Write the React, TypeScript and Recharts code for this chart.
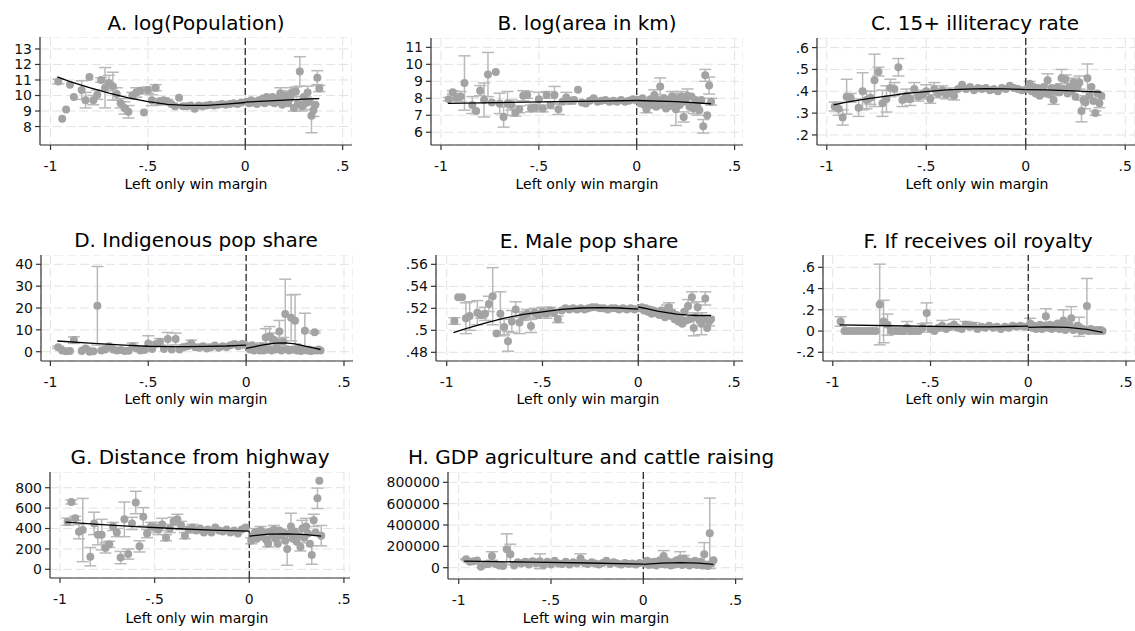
import {
  CartesianGrid,
  ComposedChart,
  ErrorBar,
  ReferenceLine,
  Scatter,
  XAxis,
  YAxis,
} from "recharts";

// bin midpoints of the running variable (shared by every panel)
const leftBins = [
  -0.96, -0.94, -0.92, -0.9, -0.88, -0.86, -0.84, -0.82, -0.8, -0.78, -0.76, -0.74,
  -0.72, -0.7, -0.68, -0.66, -0.64, -0.62, -0.6, -0.58, -0.56, -0.54, -0.52, -0.5,
  -0.48, -0.46, -0.44, -0.42, -0.4, -0.38, -0.36, -0.34, -0.32, -0.3, -0.28, -0.26,
  -0.24, -0.22, -0.2, -0.18, -0.16, -0.14, -0.12, -0.1, -0.08, -0.06, -0.04, -0.02,
];
const rightBins = [
  0.01, 0.02, 0.03, 0.04, 0.05, 0.06, 0.07, 0.08, 0.09, 0.1, 0.11, 0.12, 0.13, 0.14,
  0.15, 0.16, 0.17, 0.18, 0.19, 0.2, 0.21, 0.22, 0.23, 0.24, 0.25, 0.26, 0.27, 0.28,
  0.29, 0.3, 0.31, 0.32, 0.33, 0.34, 0.35, 0.36, 0.37, 0.38,
];
const bins = [...leftBins, ...rightBins];
const xTicks = [-1, -0.5, 0, 0.5];

type Num = number | null;
type Pair = [number, number];

// A. log(Population)
const popY: Num[] = [
  10.9, 8.5, 9.1, 10.7, 9.9, null, 10.35, 9.7, 11.2, 9.7, 10.05, 11.0, 10.5, 10.8, 10.6, 10.1,
  9.5, 9.2, 8.95, 10.0, 10.2, 10.3, 8.9, 10.35, 9.7, 10.5, 9.6, 9.7, 9.6, 9.45, 9.3, 9.85,
  9.3, 9.3, 9.35, 9.15, 9.35, 9.3, 9.35, 9.4, 9.35, 9.4, 9.45, 9.4, 9.45, 9.5, 9.45, 9.55,
  9.6, 9.5, 9.7, 9.55, 9.6, 9.45, 9.7, 9.6, 9.8, 9.5, 9.9, 9.7, 9.6, 9.9, 9.5, 9.8, 9.6,
  10.15, 9.4, 9.7, 10.0, 9.5, 9.8, 10.2, 9.2, 10.25, 9.5, 11.55, 9.3, 9.9, 9.5, 10.2, 9.6,
  8.7, 9.05, 9.4, 11.15, 10.45,
];
const popErr: Pair[] = [
  [-0.96, 0.15], [-0.84, 0.6], [-0.82, 0.5], [-0.78, 0.3], [-0.76, 0.3], [-0.74, 0.15],
  [-0.72, 1.3], [-0.7, 0.5], [-0.68, 0.9], [-0.66, 0.4], [-0.64, 0.3], [-0.62, 0.4],
  [-0.6, 0.4], [-0.58, 0.2], [-0.56, 0.3], [-0.54, 0.2], [-0.5, 0.2], [-0.48, 0.35],
  [-0.46, 0.2], [-0.44, 0.2], [-0.42, 0.15], [-0.4, 0.15], [0.18, 0.35], [0.21, 0.3],
  [0.24, 0.3], [0.25, 0.2], [0.26, 0.3], [0.28, 0.95], [0.29, 0.3], [0.31, 0.4],
  [0.32, 0.4], [0.34, 1.1], [0.35, 0.4], [0.37, 0.45], [0.38, 0.2],
];
const popFitL: Pair[] = [
  [-0.965, 11.2], [-0.9, 10.9], [-0.8, 10.5], [-0.7, 10.15], [-0.6, 9.85], [-0.5, 9.6],
  [-0.4, 9.43], [-0.3, 9.36], [-0.2, 9.37], [-0.1, 9.45], [0, 9.55],
];
const popFitR: Pair[] = [[0, 9.57], [0.1, 9.64], [0.2, 9.7], [0.3, 9.76], [0.38, 9.8]];

// B. log(area in km)
const areaY: Num[] = [
  7.95, 8.35, 8.05, 8.1, 8.9, null, 7.6, 7.25, 8.45, 7.9, 9.4, 7.75, 9.55, 7.7, 6.9, 7.7,
  7.6, 7.15, 7.35, 8.15, 8.2, 7.4, 7.45, 7.95, 7.4, 8.2, 7.6, 8.2, 7.35, 7.8, 8.05, 7.85,
  7.9, 8.5, 7.75, 7.7, 7.85, 8.0, 7.8, 7.85, 7.9, 7.8, 7.85, 7.8, 7.9, 7.8, 7.85, 7.95,
  7.9, 7.7, 8.0, 7.6, 7.35, 7.8, 7.95, 7.6, 8.2, 7.5, 7.9, 8.7, 7.6, 8.0, 7.4, 7.9, 7.55,
  8.1, 7.7, 7.35, 8.0, 7.6, 8.1, 6.9, 7.8, 8.15, 7.5, 8.1, 7.4, 7.9, 7.5, 7.3, 7.9, 6.35,
  9.35, 7.0, 8.75, 7.8,
];
const areaErr: Pair[] = [
  [-0.96, 0.1], [-0.94, 0.1], [-0.92, 0.2], [-0.9, 0.3], [-0.88, 1.6], [-0.84, 0.5],
  [-0.8, 0.3], [-0.78, 1.0], [-0.76, 1.3], [-0.7, 0.6], [-0.68, 0.6], [-0.66, 0.7],
  [-0.64, 0.3], [-0.62, 0.2], [-0.6, 0.2], [-0.58, 0.3], [-0.56, 0.2], [-0.54, 0.2],
  [-0.52, 0.2], [-0.5, 0.4], [-0.48, 0.2], [-0.46, 0.2], [-0.44, 0.2], [-0.42, 0.5],
  [-0.4, 0.3], [-0.36, 0.3], [-0.34, 0.2], [0.01, 0.2], [0.05, 0.2], [0.09, 0.3],
  [0.12, 0.5], [0.18, 0.3], [0.2, 0.95], [0.23, 0.3], [0.24, 0.3], [0.26, 0.4],
  [0.29, 0.3], [0.31, 0.5], [0.34, 0.4], [0.35, 0.35], [0.37, 0.5], [0.38, 0.2],
];
const areaFitL: Pair[] = [[-0.965, 7.7], [-0.7, 7.75], [-0.4, 7.8], [-0.2, 7.83], [0, 7.87]];
const areaFitR: Pair[] = [[0, 7.87], [0.2, 7.8], [0.38, 7.68]];

// C. 15+ illiteracy rate
const illitY: Num[] = [
  0.33, 0.32, 0.28, 0.375, 0.37, null, 0.325, 0.4, 0.36, 0.37, 0.45, 0.49, 0.345, 0.365,
  0.415, 0.41, 0.51, 0.36, 0.38, 0.365, 0.41, 0.375, 0.385, 0.4, 0.365, 0.41, 0.39, 0.405,
  0.385, 0.395, 0.38, 0.41, 0.43, 0.41, 0.42, 0.405, 0.415, 0.41, 0.415, 0.405, 0.41, 0.4,
  0.415, 0.41, 0.425, 0.415, 0.41, 0.405,
  0.41, 0.435, 0.4, 0.42, 0.39, 0.415, 0.38, 0.4, 0.42, 0.39, 0.45, 0.385, 0.415, 0.36,
  0.4, 0.42, 0.395, 0.46, 0.41, 0.455, 0.39, 0.42, 0.4, 0.44, 0.375, 0.42, 0.44, 0.31,
  0.36, 0.35, 0.46, 0.38, 0.42, 0.355, 0.3, 0.39, 0.345, 0.38,
];
const illitErr: Pair[] = [
  [-0.96, 0.02], [-0.94, 0.03], [-0.92, 0.035], [-0.9, 0.08], [-0.88, 0.02], [-0.84, 0.04],
  [-0.82, 0.085], [-0.8, 0.04], [-0.78, 0.03], [-0.76, 0.12], [-0.74, 0.02], [-0.72, 0.06],
  [-0.7, 0.06], [-0.68, 0.04], [-0.66, 0.03], [-0.64, 0.04], [-0.62, 0.03], [-0.6, 0.03],
  [-0.58, 0.03], [-0.56, 0.03], [-0.54, 0.02], [-0.52, 0.02], [-0.5, 0.03], [-0.48, 0.02],
  [-0.46, 0.03], [-0.44, 0.02], [-0.42, 0.02], [-0.4, 0.02], [-0.38, 0.02], [-0.36, 0.02],
  [0.02, 0.01], [0.11, 0.03], [0.14, 0.02], [0.18, 0.04], [0.2, 0.02], [0.24, 0.02],
  [0.27, 0.03], [0.28, 0.05], [0.3, 0.03], [0.31, 0.065], [0.35, 0.01], [0.37, 0.02],
];
const illitFitL: Pair[] = [
  [-0.965, 0.338], [-0.9, 0.35], [-0.8, 0.365], [-0.7, 0.378], [-0.6, 0.39], [-0.5, 0.398],
  [-0.4, 0.406], [-0.3, 0.41], [-0.2, 0.412], [-0.1, 0.411], [0, 0.408],
];
const illitFitR: Pair[] = [[0, 0.408], [0.1, 0.406], [0.2, 0.403], [0.3, 0.4], [0.38, 0.396]];

// D. Indigenous pop share
const indigY: Num[] = [
  2.0, 0.5, 0.2, 0.3, 5.3, null, 0.3, 1.5, 0, 0.2, 21, 0.5, 1.0, 2.5, 1.0, 0.5, 0.8, 0.3,
  0.4, 2.5, 1.5, 0.5, 0.8, 3.8, 1.2, 3.5, 4.5, 1.2, 5.8, 1.0, 5.8, 1.0, 2.0, 2.5, 3.8, 2.0,
  1.8, 2.5, 1.5, 2.0, 2.8, 1.8, 2.5, 2.2, 3.0, 3.5, 2.5, 3.5,
  2.5, 1.0, 3.0, 0.5, 2.0, 1.5, 0.5, 2.5, 0.5, 6.5, 1.0, 7.0, 0.5, 5.5, 1.0, 4.0, 9.3, 0.5,
  4.5, 17.2, 1.0, 0.5, 15.5, 1.0, 14.2, 0.5, 2.0, 0.3, 1.0, 9.6, 0.5, 1.0, 0.3, 0.5, 8.9,
  0.5, 1.0, 0.5,
];
const indigErr: Pair[] = [
  [-0.96, 0.5], [-0.88, 1.5], [-0.82, 0.5], [-0.76, 18], [-0.7, 0.5], [-0.58, 1.5],
  [-0.5, 3.5], [-0.46, 1], [-0.44, 1.5], [-0.4, 3], [-0.36, 2.7], [-0.3, 1], [-0.28, 1.5],
  [-0.22, 1], [-0.02, 1], [0.01, 1], [0.08, 1.5], [0.1, 4], [0.12, 4.5], [0.14, 3],
  [0.16, 2], [0.17, 5], [0.19, 2], [0.2, 16], [0.23, 10.5], [0.25, 12], [0.3, 8], [0.35, 0.5],
];
const indigFitL: Pair[] = [
  [-0.965, 4.9], [-0.8, 3.9], [-0.6, 2.9], [-0.5, 2.5], [-0.4, 2.3], [-0.3, 2.3],
  [-0.2, 2.4], [-0.1, 2.6], [0, 3.0],
];
const indigFitR: Pair[] = [
  [0, 1.5], [0.05, 2.4], [0.1, 3.3], [0.15, 3.9], [0.2, 4.0], [0.25, 3.6], [0.3, 2.6],
  [0.35, 1.6], [0.38, 1.0],
];

// E. Male pop share
const maleY: Num[] = [
  0.5085, 0.53, 0.53, 0.511, 0.513, null, 0.516, 0.514, 0.515, 0.524, 0.531, 0.497, 0.515,
  0.503, 0.49, 0.508, 0.519, 0.507, 0.513, 0.515, 0.504, 0.516, 0.514, 0.517, 0.515, 0.518,
  0.516, 0.51, 0.518, 0.52, 0.519, 0.52, 0.519, 0.52, 0.519, 0.52, 0.521, 0.521, 0.52, 0.52,
  0.519, 0.52, 0.52, 0.519, 0.52, 0.519, 0.52, 0.519,
  0.52, 0.521, 0.518, 0.52, 0.517, 0.519, 0.515, 0.518, 0.516, 0.517, 0.514, 0.518, 0.515,
  0.512, 0.519, 0.521, 0.513, 0.516, 0.51, 0.514, 0.508, 0.511, 0.506, 0.517, 0.509, 0.522,
  0.51, 0.53, 0.502, 0.512, 0.521, 0.509, 0.506, 0.51, 0.529, 0.502, 0.508, 0.51,
];
const maleErr: Pair[] = [
  [-0.96, 0.003], [-0.9, 0.014], [-0.88, 0.013], [-0.84, 0.011], [-0.82, 0.003],
  [-0.8, 0.006], [-0.78, 0.007], [-0.76, 0.026], [-0.72, 0.02], [-0.7, 0.007],
  [-0.68, 0.009], [-0.66, 0.01], [-0.64, 0.007], [-0.62, 0.01], [-0.6, 0.004],
  [-0.58, 0.004], [-0.56, 0.006], [-0.54, 0.004], [-0.52, 0.003], [-0.5, 0.004],
  [-0.48, 0.004], [-0.46, 0.003], [-0.44, 0.003], [-0.42, 0.003], [0.01, 0.002],
  [0.15, 0.004], [0.16, 0.004], [0.26, 0.006], [0.28, 0.005], [0.29, 0.007], [0.31, 0.005],
  [0.33, 0.01], [0.35, 0.006], [0.37, 0.004],
];
const maleFitL: Pair[] = [
  [-0.965, 0.498], [-0.9, 0.5015], [-0.8, 0.5065], [-0.7, 0.511], [-0.6, 0.5145],
  [-0.5, 0.5168], [-0.4, 0.519], [-0.3, 0.5203], [-0.2, 0.5207], [-0.1, 0.5203], [0, 0.5192],
];
const maleFitR: Pair[] = [
  [0, 0.5212], [0.05, 0.5195], [0.1, 0.5175], [0.15, 0.516], [0.2, 0.5148], [0.25, 0.514],
  [0.3, 0.5135], [0.38, 0.5135],
];

// F. If receives oil royalty
const oilY: Num[] = [
  0.09, 0, 0, 0, 0, 0, 0, 0, 0, 0, 0.25, 0.09, 0.06, 0, 0, 0, 0, 0.03, 0, 0, 0, 0.03, 0.17,
  0.02, 0, 0.03, 0.05, 0.02, 0.04, 0.06, 0.03, 0.02, 0.06, 0.04, 0.05, 0.02, 0.04, 0.03,
  0.05, 0.03, 0.04, 0.02, 0.04, 0.03, 0.05, 0.04, 0.05, 0.04,
  0.07, 0.03, 0.05, 0.02, 0.04, 0.06, 0.02, 0.05, 0.14, 0.03, 0.06, 0.02, 0.05, 0.03, 0.07,
  0.02, 0.04, 0.1, 0.01, 0.03, 0.06, 0.12, 0.01, 0.02, 0.05, 0.04, 0, 0.02, 0.01, 0.235, 0,
  0.02, 0.01, 0, 0.01, 0, 0.01, 0,
];
const oilErr: Pair[] = [
  [-0.96, 0.045], [-0.76, 0.38], [-0.74, 0.2], [-0.72, 0.1], [-0.62, 0.06], [-0.54, 0.04],
  [-0.52, 0.095], [-0.44, 0.05], [-0.38, 0.05], [-0.32, 0.03], [-0.28, 0.03], [0.01, 0.05],
  [0.09, 0.07], [0.18, 0.1], [0.22, 0.11], [0.26, 0.09], [0.3, 0.26],
];
const oilFitL: Pair[] = [[-0.965, 0.058], [-0.7, 0.05], [-0.4, 0.042], [-0.2, 0.04], [0, 0.047]];
const oilFitR: Pair[] = [[0, 0.035], [0.1, 0.04], [0.2, 0.035], [0.3, 0.015], [0.38, -0.012]];

// G. Distance from highway
const hwyY: Num[] = [
  467, 660, 500, 369, 385, null, 124, 450, 340, 340, 210, 245, 420, 360, 115, 490, 150, 450,
  655, 225, 515, 350, 420, 410, 390, 440, 310, 400, 470, 490, 430, 330, 390, 410, 380, 400,
  360, 390, 360, 410, 380, 370, 390, 360, 380, 350, 390, 410,
  280, 330, 360, 300, 340, 380, 320, 360, 290, 250, 370, 330, 390, 300, 250, 380, 330, 360,
  280, 200, 350, 420, 300, 370, 270, 330, 220, 400, 310, 420, 350, 250, 140, 480, 360, 696,
  868, 330,
];
const hwyErr: Pair[] = [
  [-0.96, 35], [-0.94, 20], [-0.92, 20], [-0.9, 70], [-0.88, 310], [-0.84, 90], [-0.82, 110],
  [-0.8, 100], [-0.78, 150], [-0.76, 50], [-0.74, 30], [-0.72, 40], [-0.7, 40], [-0.68, 60],
  [-0.66, 170], [-0.64, 50], [-0.62, 60], [-0.6, 110], [-0.58, 55], [-0.56, 90], [-0.54, 40],
  [-0.52, 40], [-0.5, 50], [-0.48, 50], [-0.46, 60], [-0.44, 30], [-0.42, 40], [-0.4, 40],
  [-0.38, 50], [-0.36, 40], [-0.34, 30], [-0.32, 30], [-0.3, 30], [-0.28, 25], [0.01, 30],
  [0.03, 40], [0.06, 40], [0.1, 30], [0.13, 40], [0.2, 160], [0.22, 130], [0.27, 40],
  [0.28, 80], [0.3, 80], [0.33, 90], [0.34, 60], [0.36, 100], [0.38, 100],
];
const hwyFitL: Pair[] = [[-0.97, 462], [-0.8, 440], [-0.6, 418], [-0.4, 400], [-0.2, 385], [0, 374]];
const hwyFitR: Pair[] = [[0, 326], [0.1, 345], [0.2, 348], [0.3, 340], [0.38, 325]];

// H. GDP agriculture and cattle raising
const gdpY: Num[] = [
  79000, 55000, 60000, 68000, 10000, 30000, 35000, 110000, 35000, 20000, 15000, 172000,
  125000, 20000, 50000, 40000, 55000, 30000, 60000, 40000, 60000, 25000, 55000, 30000,
  65000, 40000, 35000, 55000, 30000, 50000, 40000, 85000, 45000, 35000, 50000, 40000,
  30000, 45000, 65000, 35000, 50000, 40000, 30000, 45000, 35000, 40000, 30000, 45000,
  40000, 65000, 25000, 50000, 30000, 55000, 20000, 45000, 70000, 35000, 110000, 30000,
  60000, 40000, 20000, 50000, 30000, 70000, 40000, 80000, 25000, 85000, 45000, 60000,
  20000, 50000, 35000, 65000, 25000, 40000, 55000, 20000, 125000, 30000, 15000, 322000,
  40000, 70000,
];
const gdpErr: Pair[] = [
  [-0.96, 5000], [-0.94, 5000], [-0.82, 40000], [-0.74, 145000], [-0.72, 95000],
  [-0.6, 20000], [-0.56, 70000], [-0.34, 45000], [0.11, 50000], [0.2, 70000],
  [0.22, 30000], [0.33, 110000], [0.36, 330000],
];
const gdpFitL: Pair[] = [[-0.97, 62000], [-0.6, 52000], [-0.3, 44000], [0, 33000]];
const gdpFitR: Pair[] = [[0, 32000], [0.1, 42000], [0.2, 47000], [0.3, 42000], [0.38, 32000]];

const PT = "#a3a3a3";
const BAR = "#b9b9b9";
const AXIS = "#333";
const TXT = "#111";

type Spec = {
  title: string;
  xLabel: string;
  titleAt: Pair;
  labelAt: Pair;
  box: [number, number, number, number];
  xd: Pair;
  yd: Pair;
  yTicks: number[];
  yw: number;
  ys: Num[];
  errs: Pair[];
  fitL: Pair[];
  fitR: Pair[];
};

const panels: Spec[] = [
  { title: "A. log(Population)", xLabel: "Left only win margin", titleAt: [196, 23], labelAt: [196, 184],
    box: [40, 37, 352, 145], xd: [-1.054, 0.548], yd: [6.81, 13.77], yTicks: [8, 9, 10, 11, 12, 13],
    yw: 40, ys: popY, errs: popErr, fitL: popFitL, fitR: popFitR },
  { title: "B. log(area in km)", xLabel: "Left only win margin", titleAt: [587, 23], labelAt: [587, 184],
    box: [431, 38, 743, 145], xd: [-1.051, 0.543], yd: [5.25, 11.55], yTicks: [6, 7, 8, 9, 10, 11],
    yw: 40, ys: areaY, errs: areaErr, fitL: areaFitL, fitR: areaFitR },
  { title: "C. 15+ illiteracy rate", xLabel: "Left only win margin", titleAt: [975, 23], labelAt: [977, 184],
    box: [817, 38, 1135, 145], xd: [-1.049, 0.549], yd: [0.154, 0.644], yTicks: [0.2, 0.3, 0.4, 0.5, 0.6],
    yw: 40, ys: illitY, errs: illitErr, fitL: illitFitL, fitR: illitFitR },
  { title: "D. Indigenous pop share", xLabel: "Left only win margin", titleAt: [196, 240], labelAt: [196, 399],
    box: [40.5, 255, 352.5, 361], xd: [-1.048, 0.546], yd: [-4.26, 44.26], yTicks: [0, 10, 20, 30, 40],
    yw: 40, ys: indigY, errs: indigErr, fitL: indigFitL, fitR: indigFitR },
  { title: "E. Male pop share", xLabel: "Left only win margin", titleAt: [589, 241], labelAt: [588, 399],
    box: [436, 255, 743, 361], xd: [-1.056, 0.547], yd: [0.4721, 0.5685], yTicks: [0.48, 0.5, 0.52, 0.54, 0.56],
    yw: 40, ys: maleY, errs: maleErr, fitL: maleFitL, fitR: maleFitR },
  { title: "F. If receives oil royalty", xLabel: "Left only win margin", titleAt: [978, 241], labelAt: [977, 399],
    box: [823, 255, 1135, 361], xd: [-1.05, 0.546], yd: [-0.282, 0.716], yTicks: [-0.2, 0, 0.2, 0.4, 0.6],
    yw: 40, ys: oilY, errs: oilErr, fitL: oilFitL, fitR: oilFitR },
  { title: "G. Distance from highway", xLabel: "Left only win margin", titleAt: [200, 457], labelAt: [197, 618],
    box: [50, 472, 350, 578], xd: [-1.053, 0.532], yd: [-85, 954], yTicks: [0, 200, 400, 600, 800],
    yw: 46, ys: hwyY, errs: hwyErr, fitL: hwyFitL, fitR: hwyFitR },
  { title: "H. GDP agriculture and cattle raising", xLabel: "Left wing win margin", titleAt: [591, 457], labelAt: [596, 618],
    box: [448, 472, 743, 579], xd: [-1.058, 0.54], yd: [-105900, 896500],
    yTicks: [0, 200000, 400000, 600000, 800000],
    yw: 66, ys: gdpY, errs: gdpErr, fitL: gdpFitL, fitR: gdpFitR },
];

// stata drops the leading zero: -0.5 -> "-.5"
const fmt = (v: number) => String(v).replace(/^(-?)0\./, "$1.");

const errAt = (list: Pair[], x: number) => {
  const hit = list.find((p) => Math.abs(p[0] - x) < 1e-9);
  return hit ? hit[1] : 0;
};

const Dot = (p: any) => <circle cx={p.cx} cy={p.cy} r={4} fill={PT} />;
const NoDot = () => <g />;

function Panel({ s }: { s: Spec }) {
  const [L, T, R, B] = s.box;
  const xh = 30;
  const pts = bins
    .map((x, i) => ({ x, y: s.ys[i], e: errAt(s.errs, x) }))
    .filter((d) => d.y !== null);
  const fitL = s.fitL.map(([x, y]) => ({ x, y }));
  const fitR = s.fitR.map(([x, y]) => ({ x, y }));

  return (
    <>
      <div style={{ position: "absolute", left: L - s.yw, top: T }}>
        <ComposedChart
          width={R - L + s.yw}
          height={B - T + xh}
          margin={{ top: 0, right: 0, bottom: 0, left: 0 }}
        >
          <CartesianGrid stroke="#e3e3e3" strokeDasharray="9 4" strokeWidth={1} />
          <XAxis
            type="number"
            dataKey="x"
            domain={s.xd}
            ticks={xTicks}
            interval={0}
            allowDataOverflow
            tickFormatter={fmt}
            height={xh}
            tickSize={5}
            tickMargin={11}
            stroke={AXIS}
            strokeWidth={1.2}
            tick={{ fill: TXT, fontSize: 14 }}
          />
          <YAxis
            type="number"
            dataKey="y"
            domain={s.yd}
            ticks={s.yTicks}
            interval={0}
            allowDataOverflow
            tickFormatter={fmt}
            width={s.yw}
            tickSize={5}
            tickMargin={3}
            stroke={AXIS}
            strokeWidth={1.2}
            tick={{ fill: TXT, fontSize: 14 }}
          />
          <Scatter data={pts} fill={PT} shape={Dot} isAnimationActive={false}>
            <ErrorBar dataKey="e" direction="y" width={6} stroke={BAR} strokeWidth={1.5} />
          </Scatter>
          <Scatter
            data={fitL}
            fill="#000"
            line={{ stroke: "#000", strokeWidth: 1.3 }}
            shape={NoDot}
            isAnimationActive={false}
          />
          <Scatter
            data={fitR}
            fill="#000"
            line={{ stroke: "#000", strokeWidth: 1.3 }}
            shape={NoDot}
            isAnimationActive={false}
          />
          <ReferenceLine x={0} stroke="#2a2a2a" strokeWidth={1.3} strokeDasharray="7 3" />
        </ComposedChart>
      </div>
      <div style={{ ...centred, left: s.titleAt[0], top: s.titleAt[1], fontSize: 20 }}>{s.title}</div>
      <div style={{ ...centred, left: s.labelAt[0], top: s.labelAt[1], fontSize: 14 }}>{s.xLabel}</div>
    </>
  );
}

const centred: React.CSSProperties = {
  position: "absolute",
  transform: "translate(-50%, -50%)",
  whiteSpace: "nowrap",
  lineHeight: 1,
  color: "#000",
};

export default function App() {
  return (
    <div
      style={{
        position: "absolute",
        left: 0,
        top: 0,
        width: 1135,
        height: 631,
        overflow: "hidden",
        background: "#fff",
        fontFamily: "'DejaVu Sans', sans-serif",
      }}
    >
      {panels.map((s) => (
        <Panel key={s.title} s={s} />
      ))}
    </div>
  );
}
